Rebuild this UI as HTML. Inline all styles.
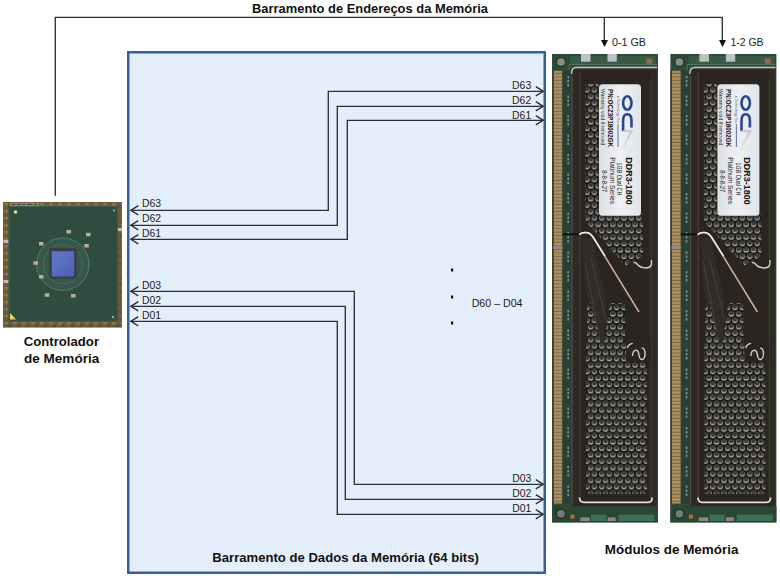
<!DOCTYPE html>
<html><head><meta charset="utf-8">
<style>
html,body{margin:0;padding:0;background:#fff;width:780px;height:578px;overflow:hidden}
svg{position:absolute;left:0;top:0;display:block}
text{font-family:"Liberation Sans",sans-serif}
.b{font-weight:bold;fill:#111}
.r{fill:#1a1a1a}
</style></head><body>
<svg width="780" height="578" viewBox="0 0 780 578">
<defs>
</defs>
<!-- address bus -->
<g fill="none" stroke="#2a3039" stroke-width="1.35" transform="translate(-0.2,-0.2)">
<path d="M55.5,196 V17.5 H722.5 V41"/>
<path d="M604.5,17.5 V41"/>
</g>
<path d="M601,40 H608 L604.5,47 Z M719,40 H726 L722.5,47 Z" fill="#111"/>
<text class="b" x="252" y="13" font-size="12.5" textLength="236" lengthAdjust="spacingAndGlyphs">Barramento de Endereços da Memória</text>
<text class="r" x="612" y="46" font-size="10.5" textLength="34" lengthAdjust="spacingAndGlyphs">0-1 GB</text>
<text class="r" x="730.5" y="46" font-size="10.5" textLength="33" lengthAdjust="spacingAndGlyphs">1-2 GB</text>

<!-- data bus box -->
<rect x="128.25" y="52.25" width="416.5" height="520.5" fill="#e5effc" stroke="#3a5e98" stroke-width="2.5"/>

<g fill="none" stroke="#2a3039" stroke-width="1.35" transform="translate(-0.2,-0.2)">
<path d="M543,91.5 H328.5 V210.5 H131"/>
<path d="M543,106.5 H337.5 V225.5 H131"/>
<path d="M543,120.5 H347.5 V239.5 H131"/>
<path d="M131,291.5 H354.5 V484.5 H543"/>
<path d="M131,306.5 H345.5 V499.5 H543"/>
<path d="M131,321.5 H337.5 V514.5 H543"/>
<path d="M138.5,205.9 L131,210.5 L138.5,215.1 M138.5,220.9 L131,225.5 L138.5,230.1 M138.5,234.9 L131,239.5 L138.5,244.1"/>
<path d="M138.5,286.9 L131,291.5 L138.5,296.1 M138.5,301.9 L131,306.5 L138.5,311.1 M138.5,316.9 L131,321.5 L138.5,326.1"/>
<path d="M536,86.9 L543.5,91.5 L536,96.1 M536,101.9 L543.5,106.5 L536,111.1 M536,115.9 L543.5,120.5 L536,125.1"/>
<path d="M536,479.9 L543.5,484.5 L536,489.1 M536,494.9 L543.5,499.5 L536,504.1 M536,509.9 L543.5,514.5 L536,519.1"/>
</g>
<g class="r" font-size="10">
<text x="141.9" y="207" textLength="19.1" lengthAdjust="spacingAndGlyphs">D63</text>
<text x="141.9" y="222" textLength="19.1" lengthAdjust="spacingAndGlyphs">D62</text>
<text x="141.9" y="236.8" textLength="19.1" lengthAdjust="spacingAndGlyphs">D61</text>
<text x="142.0" y="288.8" textLength="19.1" lengthAdjust="spacingAndGlyphs">D03</text>
<text x="142.0" y="303.8" textLength="19.1" lengthAdjust="spacingAndGlyphs">D02</text>
<text x="142.0" y="318.8" textLength="19.1" lengthAdjust="spacingAndGlyphs">D01</text>
<text x="512.1" y="89" textLength="19.1" lengthAdjust="spacingAndGlyphs">D63</text>
<text x="512.1" y="103.7" textLength="19.1" lengthAdjust="spacingAndGlyphs">D62</text>
<text x="512.1" y="118.5" textLength="19.1" lengthAdjust="spacingAndGlyphs">D61</text>
<text x="512.2" y="481.8" textLength="19.1" lengthAdjust="spacingAndGlyphs">D03</text>
<text x="512.2" y="496.8" textLength="19.1" lengthAdjust="spacingAndGlyphs">D02</text>
<text x="512.2" y="511.8" textLength="19.1" lengthAdjust="spacingAndGlyphs">D01</text>
<text x="471.7" y="307.2" textLength="50.8" lengthAdjust="spacingAndGlyphs">D60 – D04</text>
</g>
<path d="M451,268.5 h2.2 v3 h-2.2 Z M451,295.5 h2.2 v3 h-2.2 Z M451,321.5 h2.2 v3 h-2.2 Z" fill="#111"/>
<text class="b" x="212.3" y="562" font-size="12.3" textLength="266.5" lengthAdjust="spacingAndGlyphs">Barramento de Dados da Memória (64 bits)</text>
<text class="b" x="604.8" y="554.2" font-size="12.3" textLength="133.6" lengthAdjust="spacingAndGlyphs">Módulos de Memória</text>
<text class="b" x="23.8" y="345.6" font-size="12.3" textLength="75.2" lengthAdjust="spacingAndGlyphs">Controlador</text>
<text class="b" x="24" y="363.3" font-size="12.3" textLength="75.2" lengthAdjust="spacingAndGlyphs">de Memória</text>

<!-- chip photo -->
<defs>
<pattern id="brd" patternUnits="userSpaceOnUse" x="3" y="202" width="9" height="7">
<rect width="9" height="7" fill="#6f5c3c"/>
<rect x="1" y="1" width="4" height="2.5" fill="#9a8256"/>
<rect x="5" y="4" width="3" height="2" fill="#4c3e2a"/>
</pattern>
<radialGradient id="ring" cx="0.5" cy="0.5" r="0.5">
<stop offset="0" stop-color="#3e5c50"/><stop offset="0.85" stop-color="#40605a"/><stop offset="0.95" stop-color="#5f7c72"/><stop offset="1" stop-color="#37554a"/>
</radialGradient>
<linearGradient id="die" x1="0" y1="0" x2="1" y2="1">
<stop offset="0" stop-color="#6478c8"/><stop offset="1" stop-color="#4c62b4"/>
</linearGradient>
</defs>
<g id="chip">
<rect x="3" y="202" width="119" height="125.5" fill="url(#brd)"/>
<rect x="3" y="202" width="119" height="125.5" fill="#6a5638" opacity="0.35"/>
<rect x="10" y="202.8" width="29" height="3.4" fill="#8c8472"/><path d="M12,204.5h3 M17,204.5h4 M23,204.5h2 M27,204.5h5 M34,204.5h3" stroke="#4a4236" stroke-width="1"/>
<rect x="3.5" y="240" width="5" height="3" fill="#c0c0b8"/>
<rect x="3.5" y="280" width="5" height="3" fill="#c0c0b8"/>
<rect x="117" y="228" width="5" height="3" fill="#c0c0b8"/>
<rect x="9" y="206.7" width="108.6" height="114.6" fill="#2f4c40"/>
<rect x="9" y="206.7" width="108.6" height="114.6" fill="none" stroke="#3d6258" stroke-width="0.8"/>
<circle cx="62.8" cy="264.2" r="26.2" fill="#36564a" stroke="#5d7c70" stroke-width="0.9"/>
<circle cx="62.8" cy="264.2" r="19.5" fill="none" stroke="#4f6e62" stroke-width="0.8"/>
<rect x="49.4" y="248" width="27.2" height="30.4" rx="2" fill="#3c3c48"/>
<rect x="51.8" y="251.2" width="22.4" height="25.4" rx="1" fill="url(#die)"/>
<g fill="#bfae90">
<rect x="66.5" y="230" width="4.5" height="3.5"/>
<rect x="86" y="232.8" width="4.5" height="3.5"/>
<rect x="39" y="242" width="4.5" height="3.5"/>
<rect x="84.3" y="244" width="4.5" height="3.5"/>
<rect x="33.4" y="261.3" width="4.5" height="3.5"/>
<rect x="39" y="275" width="4.5" height="3.5"/>
<rect x="44.8" y="293.3" width="4.5" height="3.5"/>
<rect x="71" y="294" width="4.5" height="3.5"/>
</g>
<circle cx="15.5" cy="212" r="1.8" fill="#f0e070"/>
<path d="M10,313 L10,319.5 L16,319.5 Z" fill="#e8d860"/>
<circle cx="113" cy="317" r="1" fill="#e0d070"/>
<circle cx="114" cy="210.5" r="1" fill="#e0d070"/>
</g>

<!-- modules -->
<defs>
<pattern id="gold" patternUnits="userSpaceOnUse" x="0" y="70.5" width="10" height="3.45">
<rect width="10" height="3.45" fill="#ad9062"/><rect y="2.4" width="10" height="1.05" fill="#7f6646"/>
</pattern>
<pattern id="perf" patternUnits="userSpaceOnUse" x="587" y="79.7" width="7.4" height="12.8">
<rect width="7.4" height="12.8" fill="#1f1b18"/>
<circle cx="3.7" cy="3.9" r="2.55" fill="#cbc3b7"/><circle cx="3.7" cy="2.95" r="2.35" fill="#393d3c"/>
<circle cx="0" cy="10.3" r="2.55" fill="#cbc3b7"/><circle cx="0" cy="9.35" r="2.35" fill="#393d3c"/>
<circle cx="7.4" cy="10.3" r="2.55" fill="#cbc3b7"/><circle cx="7.4" cy="9.35" r="2.35" fill="#393d3c"/>
</pattern>
<linearGradient id="lab" x1="0" y1="0" x2="1" y2="0">
<stop offset="0" stop-color="#dcdfe5"/><stop offset="0.5" stop-color="#eef0f3"/><stop offset="1" stop-color="#e0e3e9"/>
</linearGradient>
<linearGradient id="zg" x1="0" y1="0" x2="0" y2="1">
<stop offset="0" stop-color="#b8bcc4"/><stop offset="1" stop-color="#e4e6ea"/>
</linearGradient>
<g id="mod">
<rect x="552" y="54" width="106" height="468.4" fill="#2f4a3a"/>
<rect x="570" y="56" width="86" height="9" fill="#3a5945"/>
<path d="M569,64.5 H657 M569,64.5 V70" stroke="#4e7659" stroke-width="1" fill="none"/>
<circle cx="561" cy="62" r="4.5" fill="#858f86" stroke="#22362a" stroke-width="1.3"/>
<rect x="581" y="54" width="9.5" height="7.7" fill="#bcc3c5"/>
<rect x="607.5" y="54" width="9.3" height="7.7" fill="#bcc3c5"/>
<rect x="646.3" y="58.7" width="6" height="5" fill="#8f6e4e"/>
<rect x="553.6" y="70.8" width="8.8" height="433" fill="url(#gold)"/>
<rect x="562.4" y="70" width="9.4" height="434" fill="#2a4034"/><rect x="552" y="70" width="1.6" height="434" fill="#3a4038"/>
<path d="M568.2,76v424" stroke="#9aa69e" stroke-width="1.7" stroke-dasharray="2.5 1.5 2.5 1.5 2.5 9" fill="none" opacity="0.75"/>
<path d="M571.5,506.6 V72 Q571.5,67.5 576,67.5 H657 V506.6 Z" fill="#2f2a26"/>
<rect x="580" y="70" width="70.5" height="436" fill="#2a2521"/>
<path d="M580,72 V500 M651,80 V500" stroke="#47413c" stroke-width="1" fill="none"/>
<path d="M572,76 V504" stroke="#5a544c" stroke-width="1" fill="none"/>
<rect x="553" y="246.5" width="9.4" height="2.4" fill="#8e8e86"/>
<path d="M562.4,234.3 H579" stroke="#0e0c0a" stroke-width="1.8"/>
<path d="M582,240 L592,237 L606,300 L604,343 L600,343 L585,290 Z" fill="#322c28"/>
<path d="M585,262 L600,340 M591,258 L611,340" stroke="#4a443e" stroke-width="0.9" fill="none"/>
<rect x="585.5" y="84" width="13" height="134" fill="url(#perf)"/>
<path d="M585.5,214 H643 V253 Q641,259 629,263 L626,266 L586,222 Z" fill="url(#perf)"/>
<path d="M586,343 H647 V494 H586 Z M587,306 L591,303 L601,344 H587 Z M610,303 L625,303 L625,344 L604,344 Z" fill="url(#perf)"/>
<path d="M626,340 H651 V362 H626 Z" fill="#2a2521"/>
<path d="M627.3,348 Q628.5,344 632.7,343.4 M632.5,356 Q632.5,350 636.5,350.2 Q638.5,351 639,355 Q639.5,360 642.5,359.5 Q645.5,358 645,352 Q644,347.5 641.5,348.2" stroke="#d2ccc4" stroke-width="1.4" fill="none"/>
<path d="M571.5,74 Q571.5,67.5 576,67.5 H657" fill="none" stroke="#cdc9c2" stroke-width="1.4"/>
<path d="M579.2,234.5 Q583,231.5 588,232.8 Q591,234 593,237 L639,312" stroke="#d4b098" stroke-width="1.5" fill="none"/><path d="M579.2,234.5 Q583,231.5 588,232.8 Q591,234 593,237 L605,256" stroke="#e8ecee" stroke-width="1.5" fill="none"/>
<path d="M633.5,262.5 Q636,262 638,265 Q640,267.5 646,268 Q650.5,268 651.5,264 V260" stroke="#d2d0cc" stroke-width="1.4" fill="none"/>
<path d="M579.6,497.5 Q579.6,502.3 584,502.3 H648 Q652.2,502.3 652.2,497.5" stroke="#e6ded8" stroke-width="1.7" fill="none"/>
<rect x="599" y="84.2" width="42" height="131.6" rx="3.5" fill="url(#lab)"/>
<g font-family="Liberation Sans, sans-serif">
<text transform="translate(626,157.3) rotate(90)" font-size="9.4" font-weight="bold" fill="#111" textLength="47.4" lengthAdjust="spacingAndGlyphs">DDR3-1800</text>
<text transform="translate(617.4,162.5) rotate(90)" font-size="6.6" fill="#222" textLength="33" lengthAdjust="spacingAndGlyphs">1GB Dual CH</text>
<text transform="translate(609.8,157.3) rotate(90)" font-size="6.6" fill="#222" textLength="46.7" lengthAdjust="spacingAndGlyphs">Platinum Series</text>
<text transform="translate(601.8,170.3) rotate(90)" font-size="6.6" fill="#222" textLength="22" lengthAdjust="spacingAndGlyphs">8-8-8-27</text>
<text transform="translate(607.5,89) rotate(90)" font-size="7.4" font-weight="bold" fill="#111" textLength="58" lengthAdjust="spacingAndGlyphs">PN:OCZ3P18002GK</text>
<text transform="translate(600.8,89) rotate(90)" font-size="5.8" fill="#333" textLength="56.4" lengthAdjust="spacingAndGlyphs">Warranty void if removed</text>
<text transform="translate(616.5,95.7) rotate(90)" font-size="4" fill="#34509a" textLength="28" lengthAdjust="spacingAndGlyphs">a Technology Inc.</text>
</g>
<path d="M618,124 V147" stroke="#4a62a8" stroke-width="0.9"/>
<ellipse cx="627.3" cy="103" rx="4.2" ry="6.7" fill="none" stroke="#2a4690" stroke-width="2.6"/>
<path d="M623.1,131 V120.5 Q623.1,114.2 627.3,114.2 Q631.5,114.2 631.5,120.5 V127.5" fill="none" stroke="#2a4690" stroke-width="2.6"/>
<path d="M623,131 L631.7,131 L622.6,148.5 L631.4,148.5" fill="none" stroke="url(#zg)" stroke-width="2.2" opacity="0.75"/>
<rect x="552" y="503.7" width="19" height="3" fill="#2f4a3a"/>
<rect x="552" y="506.6" width="106" height="15.8" fill="#2c4636"/>
<circle cx="561" cy="513.8" r="4.6" fill="#737c74" stroke="#1f3226" stroke-width="1.5"/>
<rect x="570.5" y="514.6" width="4" height="4" fill="#b07040"/>
<rect x="580.3" y="517.4" width="9.4" height="3.6" fill="#8a8a7e"/>
<rect x="591" y="514.5" width="15.2" height="6.5" fill="#3f6f52"/>
<rect x="607.6" y="517.4" width="8" height="3.6" fill="#8a8a7e"/>
<rect x="618.4" y="514.5" width="36" height="6.5" fill="#3f6f52"/>
</g>
</defs>
<use href="#mod"/>
<use href="#mod" transform="translate(118.4,0)"/>
</svg>
</body></html>
